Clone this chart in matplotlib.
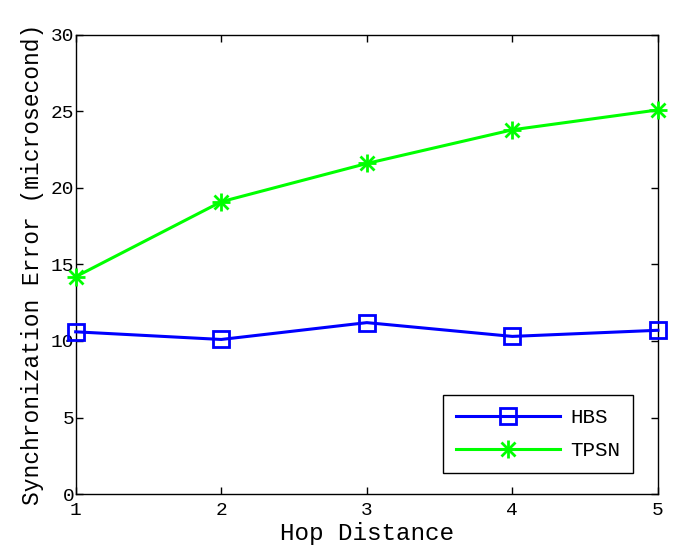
"""
Synchronization error vs hop distance, HBS vs TPSN (MATLAB-style line chart).
"""

import matplotlib
matplotlib.use("Agg")
import matplotlib.pyplot as plt
from matplotlib.lines import Line2D

# ---------------------------------------------------------------------------
# Data
# ---------------------------------------------------------------------------
HOPS = [1, 2, 3, 4, 5]
HBS_ERR = [10.6, 10.1, 11.2, 10.3, 10.7]
TPSN_ERR = [14.2, 19.1, 21.6, 23.8, 25.1]

Y_TICKS = [0, 5, 10, 15, 20, 25, 30]

FONT = "Liberation Mono"
BLUE = "#0000ff"
GREEN = "#00ff00"

SQUARE_KW = dict(marker="s", markersize=12, markerfacecolor="none",
                 markeredgewidth=2.0)
PLUS_KW = dict(marker="+", markersize=13, markeredgewidth=2.0)
CROSS_KW = dict(marker="x", markersize=9.5, markeredgewidth=2.0)


def main() -> None:
    plt.rcParams["font.family"] = [FONT, "DejaVu Sans Mono"]

    fig = plt.figure(figsize=(6.74, 5.46), dpi=100)
    ax = fig.add_axes([0.1123, 0.0952, 0.8638, 0.8408])

    ax.plot(HOPS, HBS_ERR, color=BLUE, linewidth=2.2, clip_on=False,
            zorder=3, **SQUARE_KW)
    # MATLAB-style asterisk = plus + cross overlaid
    ax.plot(HOPS, TPSN_ERR, color=GREEN, linewidth=2.2, clip_on=False,
            zorder=3, **PLUS_KW)
    ax.plot(HOPS, TPSN_ERR, linestyle="none", color=GREEN, clip_on=False,
            zorder=3, **CROSS_KW)

    ax.set_xlim(1, 5)
    ax.set_ylim(0, 30)
    ax.set_xticks(HOPS)
    ax.set_yticks(Y_TICKS)
    ax.tick_params(direction="in", length=5, width=1, top=True, right=True,
                   labelsize=14)
    ax.tick_params(axis="x", pad=6)
    ax.tick_params(axis="y", pad=1)
    for spine in ax.spines.values():
        spine.set_linewidth(1.0)

    ax.set_xlabel("Hop Distance", fontsize=17.5, labelpad=2)
    ax.set_ylabel("Synchronization Error (microsecond)", fontsize=16.5,
                  labelpad=5)

    # ------------------------------------------------------------------
    # Legend
    # ------------------------------------------------------------------
    hbs_handle = Line2D([], [], color=BLUE, linewidth=2.2, **SQUARE_KW)
    tpsn_line = Line2D([], [], color=GREEN, linewidth=2.2, **PLUS_KW)
    tpsn_cross = Line2D([], [], color=GREEN, linestyle="none", **CROSS_KW)
    leg = ax.legend([hbs_handle, (tpsn_line, tpsn_cross)], ["HBS", "TPSN"],
                    loc="lower right", bbox_to_anchor=(0.957, 0.046),
                    borderaxespad=0, fontsize=15, handlelength=5.0,
                    handletextpad=0.5, borderpad=0.6, labelspacing=0.7,
                    fancybox=False, edgecolor="black", framealpha=1)
    leg.get_frame().set_linewidth(1.0)

    fig.savefig("out.png", dpi=100)


if __name__ == "__main__":
    main()
